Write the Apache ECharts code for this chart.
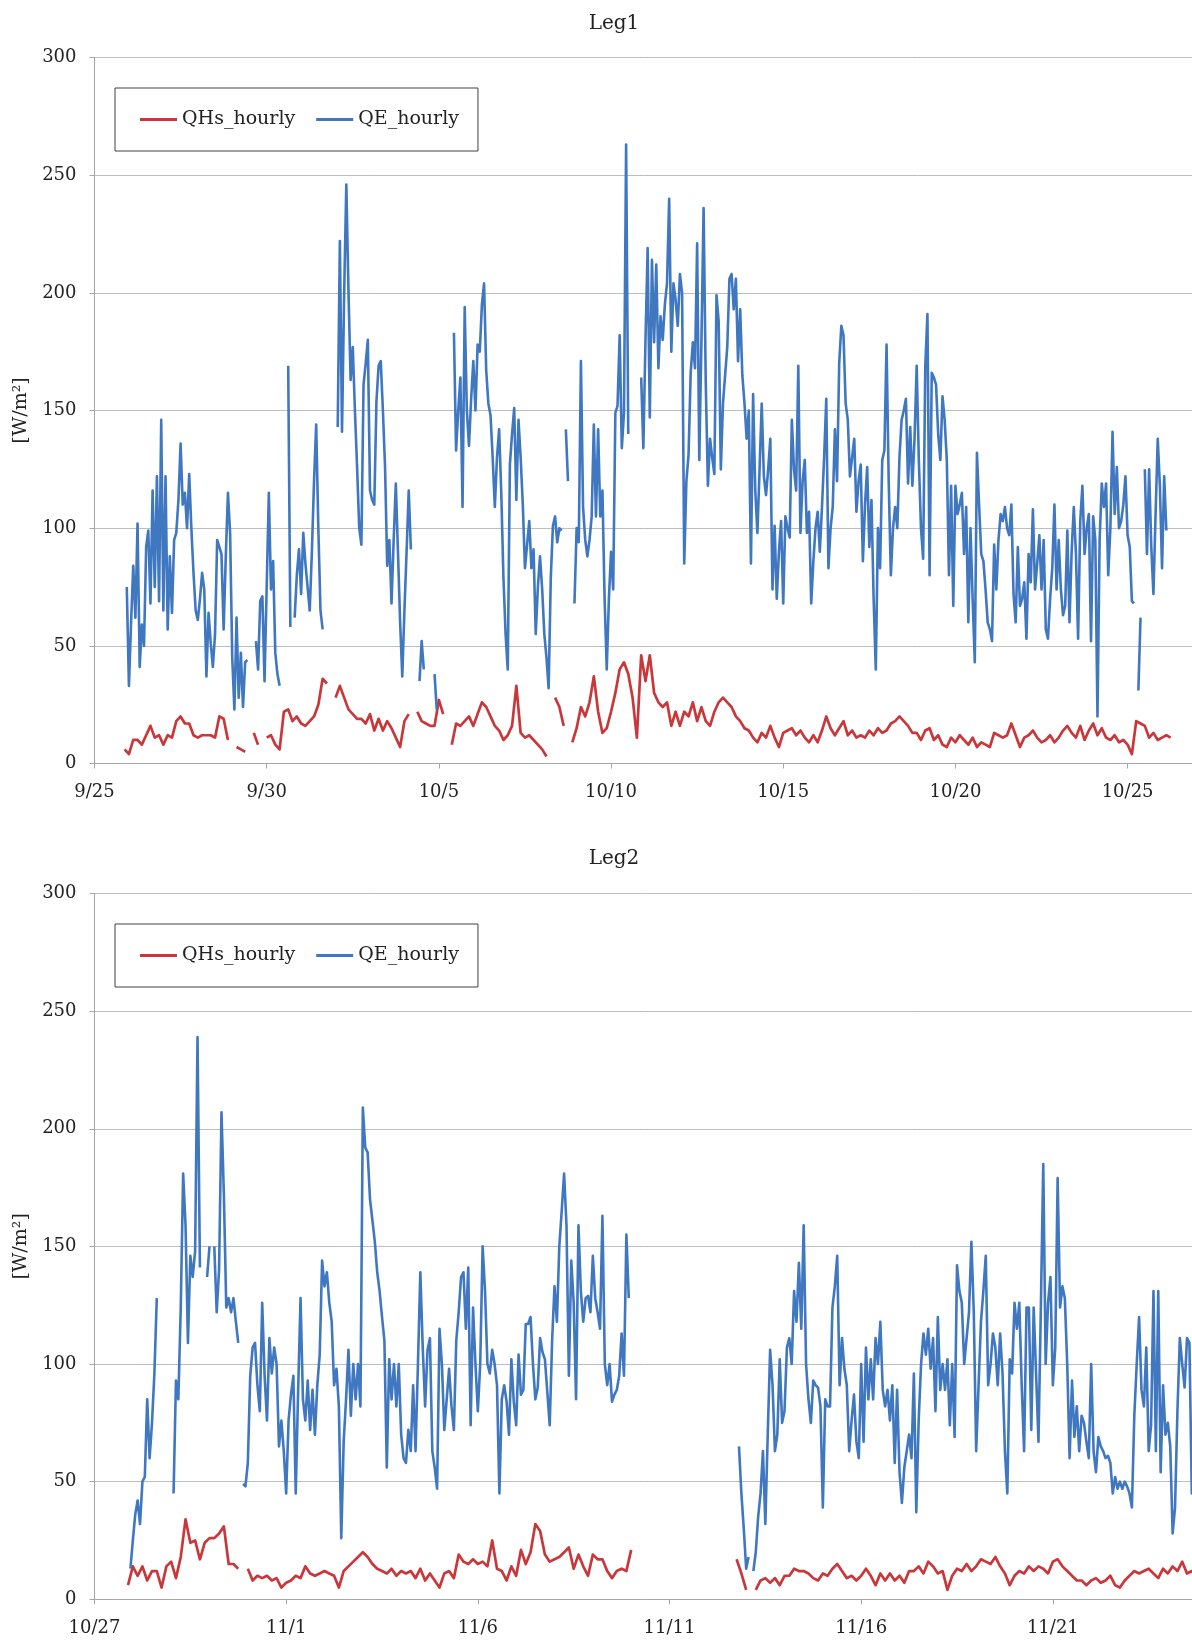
<!DOCTYPE html>
<html>
<head>
<meta charset="utf-8">
<script src="https://cdn.jsdelivr.net/npm/echarts/dist/echarts.min.js"></script>
<style>
html,body{margin:0;padding:0;background:#ffffff;}
#chart{width:1192px;height:1640px;}
</style>
</head>
<body>
<div id="chart"></div>
<script>
// ---- tick labels (one every 5 days) ----
const leg1TickLabels = ['9/25','9/30','10/5','10/10','10/15','10/20','10/25'];
const leg2TickLabels = ['10/27','11/1','11/6','11/11','11/16','11/21'];

// ---- sampling (days after first tick date) ----
const qhsStartDay = 0.875;   // QHs read every 3 hours
const qhsStepDay = 0.125;
const qeStartDay = 0.9375;   // QE read every 1.5 hours
const qeStepDay = 0.0625;

// ---- Leg1 (from 9/25) ----
const leg1QHs = [
6,4,10,10,8,12,16,11,12,8,
12,11,18,20,17,17,12,11,12,12,
12,11,20,19,10,null,7,6,5,null,
13,8,null,11,12,8,6,22,23,18,
20,17,16,18,20,25,36,34,null,28,
33,28,23,21,19,19,17,21,14,19,
14,18,15,11,7,18,21,null,22,18,
17,16,16,27,21,null,8,17,16,18,
20,16,21,26,24,20,16,14,10,12,
16,33,13,11,12,10,8,6,3,null,
28,24,16,null,9,15,24,20,26,37,
22,13,15,22,30,40,43,38,28,11,
46,35,46,30,26,24,26,16,22,16,
22,20,26,18,24,18,16,22,26,28,
26,24,20,18,15,14,11,9,13,11,
16,11,7,13,14,15,12,14,11,9,
12,9,14,20,15,12,15,18,12,14,
11,12,11,14,12,15,13,14,17,18,
20,18,16,13,13,10,14,15,10,12,
8,7,11,9,12,10,8,11,7,9,
8,7,13,12,11,12,17,12,7,11,
12,14,11,9,10,12,9,11,14,16,
13,11,16,10,14,17,12,15,11,10,
12,9,10,8,4,18,17,16,11,13,
10,11,12,11
];
const leg1QE = [
75,33,60,84,62,102,41,59,50,92,
99,68,116,75,122,69,146,65,122,57,
88,64,95,98,112,136,110,115,100,123,
100,81,65,61,70,81,74,37,64,51,
41,55,95,92,89,57,88,115,98,45,
23,62,28,47,24,43,44,null,null,null,
52,40,69,71,35,75,115,74,86,47,
38,33,null,null,null,169,58,null,62,80,
91,72,98,85,75,65,90,120,144,100,
65,57,null,null,null,null,null,null,143,222,
141,200,246,201,163,177,150,126,100,93,
161,170,180,116,112,110,154,169,171,150,
126,84,95,68,95,119,90,60,37,65,
90,116,91,null,null,null,35,52,40,null,
null,null,null,38,23,null,null,null,null,null,
null,null,183,133,150,164,109,194,150,135,
155,171,150,178,175,195,204,167,153,148,
130,109,130,142,115,79,55,40,127,140,
151,112,146,130,110,83,93,103,83,91,
55,75,88,74,55,45,32,79,101,105,
94,100,99,null,142,120,null,null,68,100,
94,171,109,95,88,95,105,144,105,142,
105,116,70,40,70,90,74,149,152,182,
134,149,263,140,null,null,null,null,null,164,
134,180,219,147,214,179,212,168,190,180,
195,204,240,175,204,197,186,208,200,85,
120,131,166,179,168,221,129,180,236,162,
118,138,130,123,199,188,125,153,165,177,
206,208,193,206,171,193,165,153,138,150,
85,157,116,98,125,153,122,114,125,138,
74,101,70,90,103,68,105,100,96,146,
125,116,169,98,120,129,98,107,68,86,
100,107,90,109,130,155,83,100,109,142,
120,170,186,182,153,146,122,130,138,107,
120,127,86,110,126,92,112,70,40,100,
83,129,133,178,120,80,100,109,100,130,
146,150,155,119,143,118,138,169,129,100,
87,169,191,80,166,164,161,140,129,156,
146,129,80,118,67,118,106,110,115,89,
109,60,100,70,43,132,110,89,86,74,
60,57,52,93,74,95,106,103,109,100,
97,110,72,60,92,67,70,77,53,89,
77,108,74,85,97,74,95,57,53,70,
83,110,74,95,74,63,67,99,60,90,
109,89,53,103,118,89,100,106,52,105,
95,20,95,119,109,119,80,100,141,106,
126,100,103,110,122,97,92,69,68,null,
31,62,null,125,89,125,92,72,106,138,
118,83,122,99
];

// ---- Leg2 (from 10/27) ----
const leg2QHs = [
6,14,10,14,8,12,12,5,14,16,
9,18,34,24,25,17,24,26,26,28,
31,15,15,13,null,13,8,10,9,10,
8,9,5,7,8,10,9,14,11,10,
11,12,11,10,5,12,14,16,18,20,
18,15,13,12,11,13,10,12,11,12,
9,13,8,11,8,5,11,12,9,19,
16,15,17,15,16,14,25,13,12,8,
14,10,21,15,20,32,29,19,16,17,
18,20,22,13,19,14,10,19,17,17,
12,9,12,13,12,21,null,null,null,null,
null,null,null,null,null,null,null,null,null,null,
null,null,null,null,null,null,null,17,11,4,
null,4,8,9,7,9,6,10,10,13,
12,12,11,9,8,11,10,13,15,12,
9,10,8,10,13,10,6,11,8,11,
8,10,7,12,12,14,11,16,14,11,
12,4,10,13,12,15,12,14,17,16,
15,18,14,11,6,10,12,11,14,12,
14,13,11,16,17,14,12,10,8,8,
6,8,9,7,8,10,6,5,8,10,
12,11,12,13,11,9,13,11,14,12,
16,11,12,10
];
const leg2QE = [
13,25,36,42,32,50,52,85,60,75,
96,128,null,null,null,null,null,null,45,93,
85,124,181,159,109,146,137,148,239,141,
null,null,137,150,null,150,122,140,207,172,
124,128,122,128,118,109,null,49,48,58,
95,107,109,91,80,126,95,76,111,96,
107,100,65,76,63,45,76,87,95,45,
89,128,85,76,93,72,89,70,91,104,
144,133,139,126,118,91,98,82,26,67,
85,106,78,100,85,100,82,209,192,190,
170,161,152,139,131,120,110,56,102,85,
100,82,100,70,60,58,72,63,91,63,
100,139,107,82,106,111,63,56,47,115,
100,72,85,98,82,72,110,122,137,139,
115,141,74,124,100,80,100,150,131,100,
96,106,100,91,45,85,91,84,70,102,
84,74,104,87,89,117,117,120,100,85,
90,111,105,102,88,74,110,133,118,150,
165,181,159,95,144,126,85,159,131,118,
128,129,122,146,128,122,115,163,100,91,
100,84,87,89,95,113,95,155,128,null,
null,null,null,null,null,null,null,null,null,null,
null,null,null,null,null,null,null,null,null,null,
null,null,null,null,null,null,null,null,null,null,
null,null,null,null,null,null,null,null,null,null,
null,null,null,null,65,45,30,13,18,null,
12,20,35,45,63,32,70,106,91,63,
70,102,75,80,107,111,100,131,118,143,
115,159,100,85,75,93,91,90,82,39,
85,82,82,124,133,146,91,111,98,91,
63,76,87,67,60,100,67,107,85,102,
85,111,100,118,89,82,89,76,91,58,
89,54,41,56,63,70,60,96,37,76,
100,113,104,115,98,111,80,120,89,100,
89,102,74,100,69,142,131,126,100,111,
122,152,122,63,91,118,131,146,91,100,
113,107,91,113,96,63,45,102,96,126,
115,126,91,63,124,124,72,124,96,67,
124,185,100,126,137,91,107,179,124,133,
128,100,60,93,69,82,63,78,75,67,
60,100,63,54,69,65,63,60,61,58,
45,52,47,50,47,50,48,45,39,78,
100,120,89,82,107,63,74,131,63,131,
54,91,70,75,65,28,39,80,111,100,
90,111,109,45,90
];

const SERIF = 'DejaVu Serif';
const RED = '#C9373A';
const BLUE = '#3F77C0';
const TXT = '#222222';

function toPairs(start, step, arr) {
  return arr.map(function (v, i) { return [start + i * step, v === null ? '-' : v]; });
}

function xAxisFor(grid, maxDay, labels) {
  return {
    type: 'value', gridIndex: grid, min: 0, max: maxDay, interval: 5,
    axisLine: { show: true, onZero: false, lineStyle: { color: '#A6A6A6', width: 1 } },
    axisTick: { show: true, length: 5, inside: false, lineStyle: { color: '#A6A6A6' } },
    axisLabel: {
      show: true, margin: 20, fontFamily: SERIF, fontSize: 18, color: TXT,
      showMaxLabel: false, showMinLabel: true,
      formatter: function (v) {
        const k = Math.round(v / 5);
        return (Math.abs(v - k * 5) < 1e-6 && labels[k] !== undefined) ? labels[k] : '';
      }
    },
    splitLine: { show: false }
  };
}

function yAxisFor(grid) {
  return {
    type: 'value', gridIndex: grid, min: 0, max: 300, interval: 50,
    name: '[W/m\u00b2]', nameLocation: 'middle', nameGap: 64, nameRotate: 90,
    nameTextStyle: { fontFamily: SERIF, fontSize: 19, color: TXT },
    axisLine: { show: true, lineStyle: { color: '#A6A6A6', width: 1 } },
    axisTick: { show: true, length: 5, inside: false, lineStyle: { color: '#A6A6A6' } },
    axisLabel: { show: true, margin: 18, fontFamily: SERIF, fontSize: 18, color: TXT },
    splitLine: { show: true, lineStyle: { color: '#BDBDBD', width: 1 } }
  };
}

function legendFor(top) {
  return {
    data: ['QHs_hourly', 'QE_hourly'],
    left: 115, top: top, orient: 'horizontal',
    icon: 'rect', itemWidth: 37, itemHeight: 3, itemGap: 21,
    padding: [22, 19, 22, 25],
    backgroundColor: '#ffffff', borderColor: '#404040', borderWidth: 1, borderRadius: 0,
    textStyle: { fontFamily: SERIF, fontSize: 19, color: TXT },
    selectedMode: false
  };
}

function lineSeries(name, color, xi, data, width) {
  return {
    name: name, type: 'line', xAxisIndex: xi, yAxisIndex: xi,
    data: data, color: color, showSymbol: false, symbol: 'none',
    connectNulls: false, clip: true, smooth: false,
    lineStyle: { color: color, width: width, join: 'round' },
    emphasis: { disabled: true }, animation: false
  };
}

const chart = echarts.init(document.getElementById('chart'), null, { renderer: 'canvas' });
chart.setOption({
  backgroundColor: '#ffffff',
  animation: false,
  textStyle: { fontFamily: SERIF },
  grid: [
    { left: 94.5, top: 57.5, right: 0, height: 706, containLabel: false, outerBoundsMode: 'none' },
    { left: 94.5, top: 893.5, right: 0, height: 705.8, containLabel: false, outerBoundsMode: 'none' }
  ],
  xAxis: [ xAxisFor(0, 31.87, leg1TickLabels), xAxisFor(1, 28.63, leg2TickLabels) ],
  yAxis: [ yAxisFor(0), yAxisFor(1) ],
  legend: [ legendFor(88), legendFor(924) ],
  graphic: [
    { type: 'text', x: 614, y: 24, style: { text: 'Leg1', fontFamily: SERIF, fontSize: 20, fill: TXT, align: 'center', verticalAlign: 'middle' } },
    { type: 'text', x: 614, y: 859, style: { text: 'Leg2', fontFamily: SERIF, fontSize: 20, fill: TXT, align: 'center', verticalAlign: 'middle' } }
  ],
  series: [
    lineSeries('QHs_hourly', RED, 0, toPairs(qhsStartDay, qhsStepDay, leg1QHs), 2.7),
    lineSeries('QE_hourly', BLUE, 0, toPairs(qeStartDay, qeStepDay, leg1QE), 2.6),
    lineSeries('QHs_hourly', RED, 1, toPairs(qhsStartDay, qhsStepDay, leg2QHs), 2.7),
    lineSeries('QE_hourly', BLUE, 1, toPairs(qeStartDay, qeStepDay, leg2QE), 2.6)
  ]
});
</script>
</body>
</html>
